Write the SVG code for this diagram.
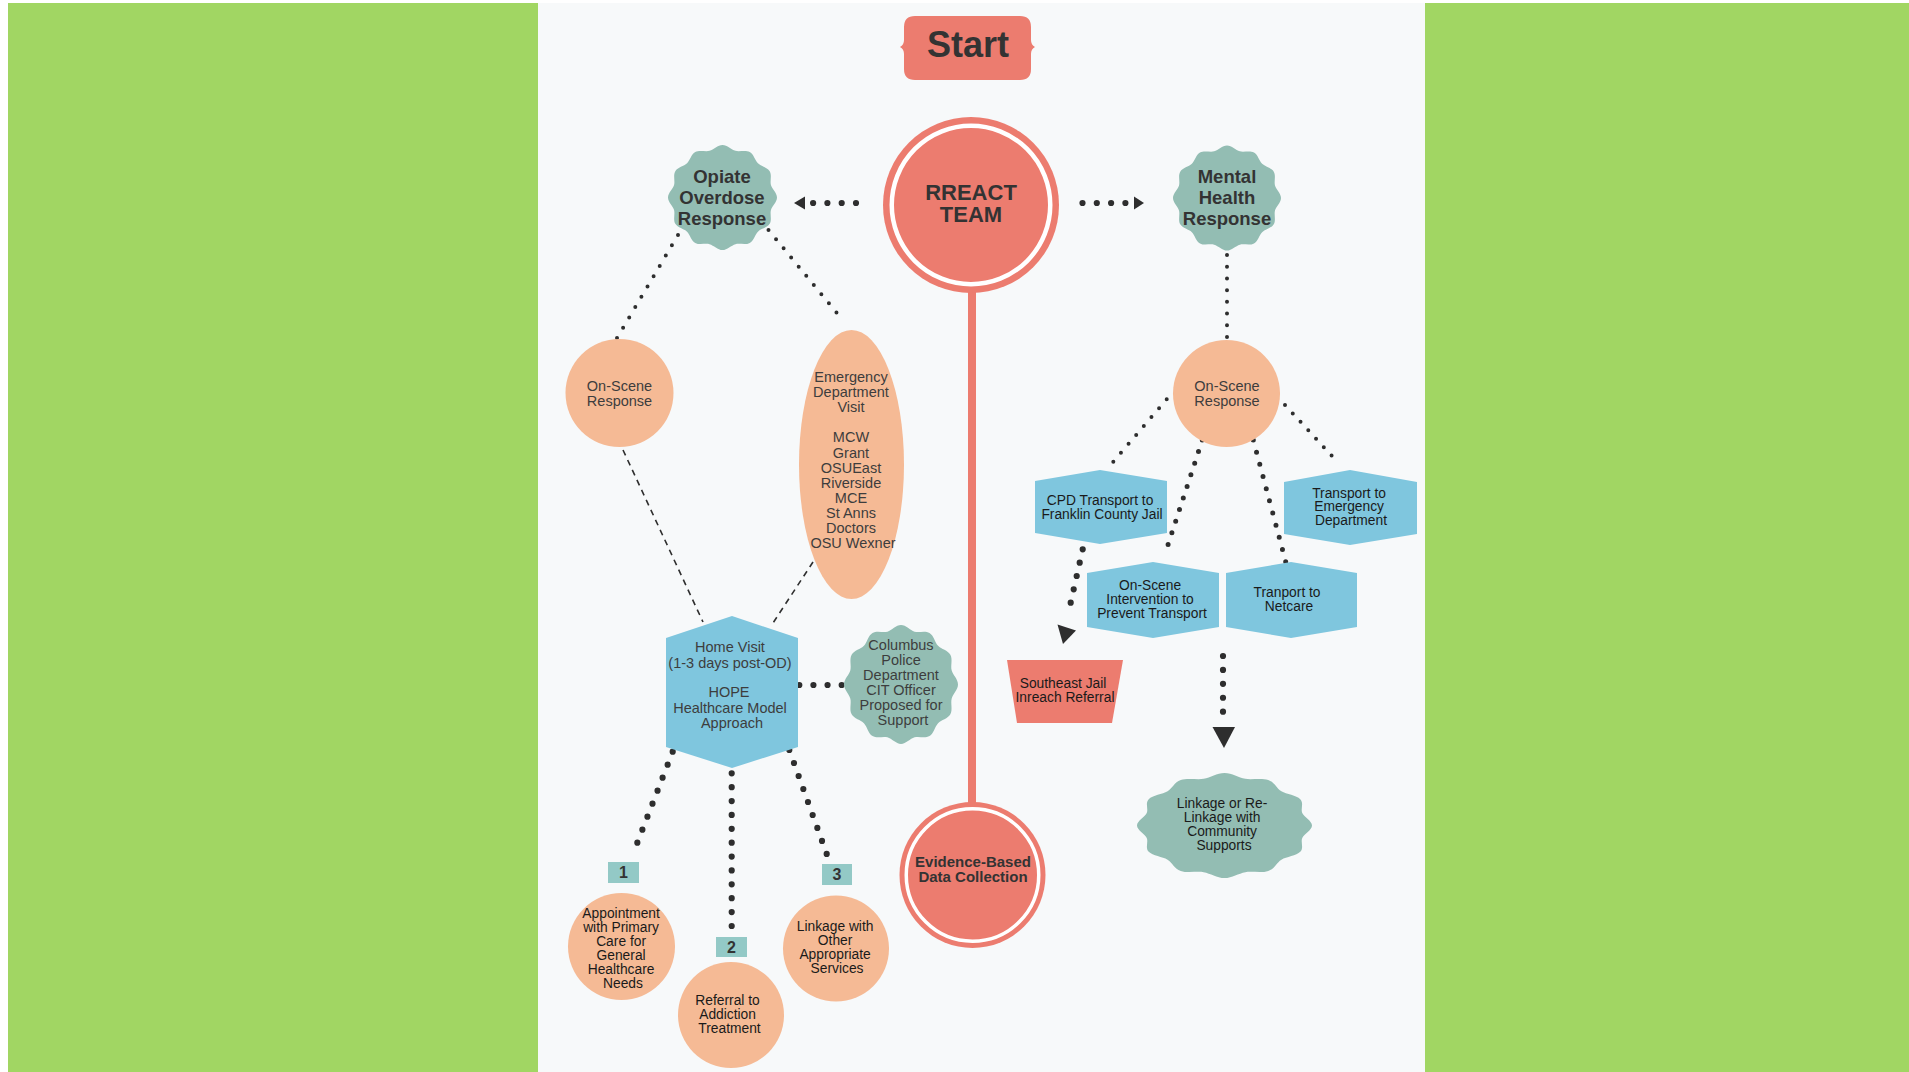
<svg xmlns="http://www.w3.org/2000/svg" width="1909" height="1072" viewBox="0 0 1909 1072">
<defs>
<style>
.red{fill:#ec7c6f}
.teal{fill:#93bdb3}
.peach{fill:#f5ba95}
.blue{fill:#7fc6de}
.badge{fill:#93c9c6}
.ring{fill:none;stroke:#ffffff}
.tb{font-family:"Liberation Sans",Arial,Helvetica,sans-serif;font-weight:bold;fill:#333333;text-anchor:middle}
.tg{font-family:"Liberation Sans",Arial,Helvetica,sans-serif;fill:#3d3d3d;text-anchor:middle;font-size:14.5px}
.ta{font-family:"Liberation Sans",Arial,Helvetica,sans-serif;fill:#1a1a1a;text-anchor:middle;font-size:13.8px}
.dots{fill:none;stroke:#2e2e2e;stroke-linecap:round}
.big{stroke-width:6.2}
.mid{stroke-width:5}
.small{stroke-width:4}
.dash{fill:none;stroke:#2e2e2e;stroke-width:1.6;stroke-dasharray:6 5}
.head{fill:#2e2e2e}
.spine{stroke:#ec7c6f;stroke-width:8}
</style>
<path id="scallop" d="M50,0 C50,4.37 45.47,8.03 44.43,11.91 C43.39,15.79 45.49,21.22 43.30,25 C41.12,28.79 35.37,29.69 32.53,32.53 C29.69,35.37 28.79,41.12 25,43.30 C21.22,45.49 15.79,43.39 11.91,44.43 C8.03,45.47 4.37,50 0,50 C-4.37,50 -8.03,45.47 -11.91,44.43 C-15.79,43.39 -21.22,45.49 -25,43.30 C-28.79,41.12 -29.69,35.37 -32.53,32.53 C-35.37,29.69 -41.12,28.79 -43.30,25 C-45.49,21.22 -43.39,15.79 -44.43,11.91 C-45.47,8.03 -50,4.37 -50,0 C-50,-4.37 -45.47,-8.03 -44.43,-11.91 C-43.39,-15.79 -45.49,-21.22 -43.30,-25 C-41.12,-28.79 -35.37,-29.69 -32.53,-32.53 C-29.69,-35.37 -28.79,-41.12 -25,-43.30 C-21.22,-45.49 -15.79,-43.39 -11.91,-44.43 C-8.03,-45.47 -4.37,-50 0,-50 C4.37,-50 8.03,-45.47 11.91,-44.43 C15.79,-43.39 21.22,-45.49 25,-43.30 C28.79,-41.12 29.69,-35.37 32.53,-32.53 C35.37,-29.69 41.12,-28.79 43.30,-25 C45.49,-21.22 43.39,-15.79 44.43,-11.91 C45.47,-8.03 50,-4.37 50,0 Z"/>
</defs>

<g id="background">
<rect x="0" y="0" width="1909" height="1072" fill="#ffffff"/>
<rect x="8" y="3" width="530" height="1069" fill="#a1d663"/>
<rect x="538" y="3" width="887" height="1069" fill="#f7f9fa"/>
<rect x="1425" y="3" width="484" height="1069" fill="#a1d663"/>
</g>

<g id="connectors">
<line class="spine" x1="972" y1="290" x2="972" y2="805"/>
<line class="dots big" x1="856" y1="203" x2="813" y2="203" stroke-dasharray="0 14.3"/>
<polygon class="head" points="794,203 805,196.5 805,209.5"/>
<line class="dots big" x1="1082.5" y1="203" x2="1125.5" y2="203" stroke-dasharray="0 14.3"/>
<polygon class="head" points="1144,203 1134,196.5 1134,209.5"/>
<line class="dots small" x1="678" y1="235" x2="617" y2="338" stroke-dasharray="0 11.97"/>
<line class="dots small" x1="768.5" y1="230" x2="844" y2="321.7" stroke-dasharray="0 11.88"/>
<line class="dots small" x1="1227" y1="255" x2="1227" y2="337" stroke-dasharray="0 11.71"/>
<line class="dots small" x1="1166.7" y1="399.3" x2="1113.3" y2="461.7" stroke-dasharray="0 11.73"/>
<line class="dots mid" x1="1202.3" y1="440" x2="1164.3" y2="556" stroke-dasharray="0 12.21"/>
<line class="dots mid" x1="1253.3" y1="440" x2="1285.7" y2="561.7" stroke-dasharray="0 12.59"/>
<line class="dots small" x1="1285" y1="405" x2="1339.3" y2="464" stroke-dasharray="0 11.46"/>
<line class="dots big" x1="1082.7" y1="549.3" x2="1067.7" y2="616" stroke-dasharray="0 13.68"/>
<polygon class="head" points="1057.5,624.5 1076,630.5 1063,644"/>
<line class="dots big" x1="1223" y1="656" x2="1223" y2="711.7" stroke-dasharray="0 13.92"/>
<polygon class="head" points="1212.5,727 1235,727 1224,748"/>
<line class="dots big" x1="799.3" y1="685" x2="841.7" y2="685" stroke-dasharray="0 14.13"/>
<line class="dots big" x1="672.7" y1="751.7" x2="632.3" y2="855.7" stroke-dasharray="0 13.95"/>
<line class="dots big" x1="731.7" y1="773.3" x2="731.7" y2="926" stroke-dasharray="0 13.88"/>
<line class="dots big" x1="789.3" y1="750" x2="826.7" y2="854" stroke-dasharray="0 13.81"/>
<line class="dash" x1="623" y1="450" x2="703" y2="622"/>
<line class="dash" x1="813" y1="562" x2="773" y2="623"/>
</g>

<g id="start">
<path class="red" d="M915,16 H1020 Q1031,16 1031,27 V40 Q1031,45 1035,47 Q1031,49 1031,54 V69 Q1031,80 1020,80 H915 Q904,80 904,69 V54 Q904,49 900,47 Q904,45 904,40 V27 Q904,16 915,16 Z"/>
<text class="tb" x="968" y="57" font-size="36">Start</text>
</g>

<g id="rreact-team">
<circle class="red" cx="971" cy="205" r="88"/>
<circle class="ring" cx="971" cy="205" r="79.25" stroke-width="4.5"/>
<text class="tb" x="971" y="200" font-size="22">RREACT</text>
<text class="tb" x="971" y="221.5" font-size="22">TEAM</text>
</g>

<g id="evidence-based">
<circle class="red" cx="972.5" cy="875" r="73"/>
<circle class="ring" cx="972.5" cy="875" r="66.25" stroke-width="3.5"/>
<text class="tb" x="973" y="867" font-size="15">Evidence-Based</text>
<text class="tb" x="973" y="882" font-size="15">Data Collection</text>
</g>

<g id="opiate-overdose">
<use href="#scallop" class="teal" transform="translate(722.5,197.5) scale(1.09,1.05)"/>
<text class="tb" x="722" y="183" font-size="18.5">Opiate</text>
<text class="tb" x="722" y="204" font-size="18.5">Overdose</text>
<text class="tb" x="722" y="224.5" font-size="18.5">Response</text>
</g>

<g id="mental-health">
<use href="#scallop" class="teal" transform="translate(1227,198) scale(1.08,1.05)"/>
<text class="tb" x="1227" y="183" font-size="18.5">Mental</text>
<text class="tb" x="1227" y="204" font-size="18.5">Health</text>
<text class="tb" x="1227" y="224.5" font-size="18.5">Response</text>
</g>

<g id="on-scene-left">
<circle class="peach" cx="619.5" cy="393" r="54"/>
<text class="tg" x="619.5" y="391">On-Scene</text>
<text class="tg" x="619.5" y="406">Response</text>
</g>

<g id="emergency-visit">
<ellipse class="peach" cx="851.5" cy="464.5" rx="52.5" ry="134.5"/>
<text class="tg" x="853">
<tspan x="853" y="382">Emergency</tspan>
<tspan x="853" y="397.1">Department</tspan>
<tspan x="853" y="412.2">Visit</tspan>
<tspan x="853" y="442.4">MCW</tspan>
<tspan x="853" y="457.5">Grant</tspan>
<tspan x="853" y="472.6">OSUEast</tspan>
<tspan x="853" y="487.7">Riverside</tspan>
<tspan x="853" y="502.8">MCE</tspan>
<tspan x="853" y="517.9">St Anns</tspan>
<tspan x="853" y="533">Doctors</tspan>
<tspan x="853" y="548.1">OSU Wexner</tspan>
</text>
</g>

<g id="home-visit">
<polygon class="blue" points="732,616 798,638 798,747 732,768 666,747 666,638"/>
<text class="tg" font-size="15">
<tspan x="732" y="652">Home Visit</tspan>
<tspan x="732" y="667.5">(1-3 days post-OD)</tspan>
<tspan x="731" y="697">HOPE</tspan>
<tspan x="732" y="712.5">Healthcare Model</tspan>
<tspan x="732" y="728">Approach</tspan>
</text>
</g>

<g id="columbus-police">
<use href="#scallop" class="teal" transform="translate(901,684.5) scale(1.14,1.19)"/>
<text class="tg">
<tspan x="903" y="650">Columbus</tspan>
<tspan x="903" y="665">Police</tspan>
<tspan x="903" y="680">Department</tspan>
<tspan x="903" y="695">CIT Officer</tspan>
<tspan x="903" y="710">Proposed for</tspan>
<tspan x="903" y="725">Support</tspan>
</text>
</g>

<g id="badge-1">
<rect class="badge" x="608" y="862" width="31" height="21"/>
<text class="tb" x="623.5" y="877.5" font-size="16">1</text>
</g>
<g id="badge-2">
<rect class="badge" x="716" y="937" width="31" height="20"/>
<text class="tb" x="731.5" y="952.5" font-size="16">2</text>
</g>
<g id="badge-3">
<rect class="badge" x="822" y="864" width="30" height="21"/>
<text class="tb" x="837" y="879.5" font-size="16">3</text>
</g>

<g id="appointment-primary-care">
<circle class="peach" cx="621.5" cy="946.5" r="53.5"/>
<text class="ta" font-size="14">
<tspan x="623" y="918">Appointment</tspan>
<tspan x="623" y="932">with Primary</tspan>
<tspan x="623" y="946">Care for</tspan>
<tspan x="623" y="960">General</tspan>
<tspan x="623" y="974">Healthcare</tspan>
<tspan x="623" y="988">Needs</tspan>
</text>
</g>

<g id="referral-addiction">
<circle class="peach" cx="731" cy="1015" r="53"/>
<text class="ta" font-size="14">
<tspan x="729.5" y="1005">Referral to</tspan>
<tspan x="729.5" y="1019">Addiction</tspan>
<tspan x="729.5" y="1033">Treatment</tspan>
</text>
</g>

<g id="linkage-other-services">
<circle class="peach" cx="836" cy="948.5" r="53"/>
<text class="ta" font-size="14">
<tspan x="837" y="931">Linkage with</tspan>
<tspan x="837" y="945">Other</tspan>
<tspan x="837" y="959">Appropriate</tspan>
<tspan x="837" y="973">Services</tspan>
</text>
</g>

<g id="on-scene-right">
<circle class="peach" cx="1226.5" cy="393.5" r="53.5"/>
<text class="tg" x="1227" y="391">On-Scene</text>
<text class="tg" x="1227" y="406">Response</text>
</g>

<g id="cpd-transport">
<polygon class="blue" points="1035,481 1100,470 1167,481 1167,533 1100,544 1035,533"/>
<text class="ta">
<tspan x="1102" y="505">CPD Transport to</tspan>
<tspan x="1102" y="518.5">Franklin County Jail</tspan>
</text>
</g>

<g id="transport-ed">
<polygon class="blue" points="1284,482 1350,470 1417,482 1417,534 1350,545 1284,534"/>
<text class="ta">
<tspan x="1351" y="497.5">Transport to</tspan>
<tspan x="1351" y="511">Emergency</tspan>
<tspan x="1351" y="525">Department</tspan>
</text>
</g>

<g id="on-scene-intervention">
<polygon class="blue" points="1087,573 1153,562 1219,573 1219,627 1153,638 1087,627"/>
<text class="ta">
<tspan x="1152" y="590">On-Scene</tspan>
<tspan x="1152" y="604">Intervention to</tspan>
<tspan x="1152" y="618">Prevent Transport</tspan>
</text>
</g>

<g id="transport-netcare">
<polygon class="blue" points="1226,573 1291,562 1357,573 1357,627 1291,638 1226,627"/>
<text class="ta">
<tspan x="1289" y="597">Tranport to</tspan>
<tspan x="1289" y="611">Netcare</tspan>
</text>
</g>

<g id="southeast-jail">
<polygon class="red" points="1007,660 1123,660 1112,723 1017,723"/>
<text class="ta">
<tspan x="1065" y="688">Southeast Jail</tspan>
<tspan x="1065" y="702">Inreach Referral</tspan>
</text>
</g>

<g id="linkage-community">
<use href="#scallop" class="teal" transform="translate(1224.5,825.5) scale(1.75,1.05)"/>
<text class="ta">
<tspan x="1224" y="808">Linkage or Re-</tspan>
<tspan x="1224" y="822">Linkage with</tspan>
<tspan x="1224" y="836">Community</tspan>
<tspan x="1224" y="850">Supports</tspan>
</text>
</g>
</svg>
